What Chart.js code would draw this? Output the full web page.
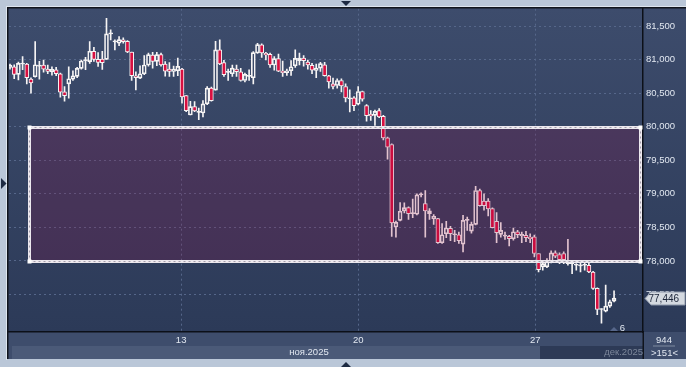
<!DOCTYPE html>
<html>
<head>
  <meta charset="UTF-8">
  <title>Свечной график</title>
  <script src="https://cdn.jsdelivr.net/npm/chart.js"></script>
  <style>
    html, body { margin: 0; padding: 0; background: #bac7d8; }
    canvas { display: block; }
  </style>
</head>
<body>
<canvas id="chart" width="686" height="367"></canvas>

<script>
  // свечи: открытие, максимум, минимум, закрытие
  const candleOpen = [
    80885, 80895, 80780, 80935, 80935, 80710, 80745, 80905, 80920, 80860,
    80820, 80850, 80790, 80520, 80640, 80710, 80750, 80870, 80985, 80970,
    81125, 81005, 81010, 81005, 81385, 81265, 81245, 81295, 81275, 81115,
    80760, 80725, 80790, 80920, 81070, 80975, 81075, 80935, 80860, 80825,
    80835, 80860, 80465, 80175, 80300, 80215, 80205, 80340, 80575, 80545,
    81145, 80955, 80810, 80790, 80860, 80820, 80690, 80750, 80730, 81100,
    81220, 81095, 81080, 80920, 81015, 80830, 80805, 80835, 80910, 80985,
    81025, 80965, 80915, 80840, 80875, 80925, 80760, 80640, 80615, 80690,
    80600, 80415, 80430, 80335, 80525, 80315, 80185, 80170, 80240, 80155,
    79835, 79735, 78505, 78605, 78745, 78795, 78705, 78695, 78985, 78855,
    78705, 78630, 78630, 78270, 78405, 78485, 78390, 78390, 78250, 78605,
    78445, 78545, 79050, 78890, 78890, 78780, 78590, 78395, 78370, 78365,
    78330, 78435, 78375, 78380, 78355, 78360, 78110, 77910, 77910, 77985,
    78120, 78095, 78110, 77960, 77960, 77935, 77925, 77935, 77935, 77835,
    77590, 77275, 77250, 77325, 77400
  ];
  const candleHigh = [
    80935, 80925, 80965, 81045, 80945, 80730, 81270, 80975, 80995, 80920,
    80895, 80885, 80800, 80600, 80895, 80835, 80885, 80995, 81035, 81270,
    81185, 81105, 81125, 81615, 81445, 81295, 81345, 81325, 81285, 81115,
    80820, 80910, 81060, 81100, 81110, 81110, 81100, 80970, 80955, 80905,
    81025, 80870, 80465, 80380, 80375, 80280, 80390, 80600, 80590, 81275,
    81295, 80990, 80860, 80920, 80920, 80870, 80800, 80850, 81120, 81245,
    81235, 81110, 81100, 81045, 81085, 80980, 80860, 80985, 81145, 81100,
    81060, 80995, 80945, 80935, 80960, 80960, 80765, 80725, 80715, 80715,
    80640, 80550, 80450, 80600, 80530, 80330, 80240, 80250, 80270, 80170,
    79845, 79745, 78595, 78870, 78865, 78805, 78920, 79000, 79015, 79050,
    78780, 78690, 78635, 78555, 78590, 78515, 78455, 78430, 78680, 78655,
    78580, 79110, 79070, 79000, 78930, 78790, 78720, 78570, 78430, 78380,
    78490, 78455, 78430, 78440, 78405, 78385, 78110, 77985, 78035, 78150,
    78150, 78120, 78135, 78320, 77985, 77960, 77970, 77970, 77970, 77845,
    77600, 77290, 77640, 77415, 77555
  ];
  const candleLow = [
    80860, 80715, 80700, 80850, 80640, 80500, 80740, 80710, 80815, 80790,
    80770, 80760, 80440, 80380, 80425, 80690, 80730, 80860, 80850, 80945,
    80975, 80900, 80855, 81005, 81295, 81145, 81210, 81245, 81105, 80690,
    80550, 80715, 80775, 80905, 80875, 80910, 80905, 80755, 80750, 80750,
    80760, 80350, 80225, 80175, 80225, 80105, 80145, 80330, 80380, 80545,
    80925, 80750, 80690, 80750, 80750, 80680, 80670, 80690, 80640, 81095,
    81035, 80995, 80885, 80845, 80820, 80750, 80765, 80765, 80885, 80920,
    80905, 80860, 80790, 80730, 80825, 80755, 80575, 80565, 80575, 80520,
    80370, 80220, 80240, 80325, 80380, 80085, 80095, 80020, 80135, 79805,
    79515, 78365, 78355, 78595, 78715, 78620, 78645, 78685, 78955, 78355,
    78620, 78545, 78260, 78260, 78345, 78300, 78285, 78260, 78135, 78455,
    78415, 78535, 78815, 78755, 78670, 78490, 78270, 78355, 78320, 78225,
    78310, 78345, 78270, 78285, 78270, 78060, 77835, 77860, 77900, 77970,
    78050, 77960, 77960, 77935, 77810, 77860, 77835, 77860, 77825, 77575,
    77200, 77070, 77240, 77305, 77390
  ];
  const candleClose = [
    80920, 80780, 80945, 80935, 80730, 80655, 80925, 80905, 80860, 80825,
    80855, 80790, 80515, 80465, 80715, 80760, 80870, 80980, 80985, 81125,
    81005, 80960, 80955, 81385, 81385, 81265, 81300, 81270, 81115, 80760,
    80730, 80790, 80920, 81075, 80975, 81075, 80920, 80830, 80825, 80860,
    80900, 80445, 80240, 80300, 80235, 80215, 80340, 80575, 80390, 81145,
    80935, 80775, 80810, 80875, 80820, 80690, 80780, 80750, 81105, 81225,
    81100, 81070, 80920, 81015, 80830, 80805, 80835, 80895, 81020, 81025,
    80985, 80920, 80845, 80875, 80940, 80760, 80670, 80600, 80690, 80610,
    80430, 80415, 80315, 80525, 80410, 80165, 80160, 80230, 80145, 79835,
    79695, 78565, 78575, 78740, 78795, 78705, 78705, 78985, 78985, 78745,
    78745, 78665, 78270, 78390, 78490, 78405, 78390, 78300, 78605, 78605,
    78545, 79050, 78825, 78825, 78775, 78495, 78420, 78455, 78370, 78330,
    78435, 78390, 78395, 78345, 78330, 78110, 77870, 77960, 78010, 78120,
    78070, 78020, 78020, 77960, 77960, 77935, 77925, 77935, 77835, 77590,
    77275, 77275, 77325, 77390, 77446
  ];

  // шкалы
  const priceTicks = [77500, 78000, 78500, 79000, 79500, 80000, 80500, 81000, 81500];
  const dayBreaks = [41.8, 84.0, 126.2];       // номер свечи на границе дня
  const dayLabels = ['13', '20', '27'];
  const monthLabels = ['ноя.2025', 'дек.2025'];
  const infoLabels = ['944', '>151<', '6'];

  // прямоугольник-зона 78 000 – 80 000
  const zoneFrom = 5.5, zoneTo = 151.2, zoneHigh = 80000, zoneLow = 78000;

  const idx = candleOpen.map((v, i) => i + 1);
  const fmt = v => v.toLocaleString('en-US');

  const upperWick = idx.map((x, i) => ({ x: x, y: [Math.max(candleOpen[i], candleClose[i]), candleHigh[i]] }));
  const lowerWick = idx.map((x, i) => ({ x: x, y: [candleLow[i], Math.min(candleOpen[i], candleClose[i])] }));
  const bodies = idx.map((x, i) => ({ x: x, y: [candleOpen[i], candleClose[i]] }));
  const bodyFill = idx.map((x, i) => candleClose[i] < candleOpen[i] ? '#d80f40' : 'rgba(0,0,0,0)');

  const wickColor = '#f6f4f4';

  // фон, рамка
  const frame = {
    id: 'frame',
    beforeDraw(chart) {
      const ctx = chart.ctx;
      ctx.save();
      ctx.fillStyle = '#bac7d8';
      ctx.fillRect(0, 0, 686, 367);
      ctx.fillStyle = '#dde5ee';
      ctx.fillRect(6, 6, 680, 1);
      ctx.fillRect(6, 6, 1, 354);
      const g = ctx.createLinearGradient(0, 8, 0, 332);
      g.addColorStop(0, '#3d4c6c');
      g.addColorStop(1, '#2c3a58');
      ctx.fillStyle = g;
      ctx.fillRect(8, 8, 678, 324);
      ctx.fillStyle = '#3e4d6c';
      ctx.fillRect(8, 332, 678, 27);
      ctx.fillStyle = '#4b5a78';
      ctx.fillRect(12, 346, 528, 13);
      ctx.fillStyle = '#2d3a56';
      ctx.fillRect(540, 346, 103, 13);
      ctx.restore();
    },
    afterDraw(chart) {
      const ctx = chart.ctx;
      const y = chart.scales.y;
      ctx.save();
      ctx.fillStyle = '#10141c';
      ctx.fillRect(7, 7, 679, 1.5);
      ctx.fillRect(7, 7, 1.5, 352);
      ctx.fillRect(642.5, 332, 1.5, 27);

      // подписи месяцев
      ctx.font = '9.5px "Liberation Sans"';
      ctx.textBaseline = 'middle';
      ctx.textAlign = 'center';
      ctx.fillStyle = '#e2e8f1';
      ctx.fillText(monthLabels[0], 309, 352);
      ctx.textAlign = 'right';
      ctx.fillStyle = '#7c879b';
      ctx.fillText(monthLabels[1], 643, 352);

      // правый нижний блок
      ctx.textAlign = 'center';
      ctx.fillStyle = '#e2e8f1';
      ctx.fillText(infoLabels[0], 664, 340);
      ctx.fillText(infoLabels[1], 664.5, 353);
      ctx.fillStyle = '#7f8ba0';
      ctx.fillRect(653, 345.5, 22, 1);

      // маркер «6»
      ctx.fillStyle = '#56668a';
      ctx.beginPath();
      ctx.moveTo(610, 331); ctx.lineTo(618, 331); ctx.lineTo(614, 327);
      ctx.closePath(); ctx.fill();
      ctx.fillStyle = '#e2e8f1';
      ctx.fillText(infoLabels[2], 622.5, 328);

      // ярлык последней цены
      const last = candleClose[candleClose.length - 1];
      const py = Math.round(y.getPixelForValue(last)) + 0.5;
      ctx.beginPath();
      ctx.moveTo(645, py);
      ctx.lineTo(651, py - 6.5);
      ctx.lineTo(685, py - 6.5);
      ctx.lineTo(685, py + 6.5);
      ctx.lineTo(651, py + 6.5);
      ctx.closePath();
      ctx.fillStyle = '#d4d9e0';
      ctx.fill();
      ctx.strokeStyle = '#8c96a8';
      ctx.lineWidth = 1;
      ctx.stroke();
      ctx.fillStyle = '#1b2438';
      ctx.textAlign = 'left';
      ctx.font = '10px "Liberation Sans"';
      ctx.fillText(fmt(last), 648.5, py + 0.5);

      // треугольники по краям окна
      ctx.fillStyle = '#1d2a42';
      ctx.beginPath();
      ctx.moveTo(341, 1); ctx.lineTo(351, 1); ctx.lineTo(346, 6); ctx.closePath(); ctx.fill();
      ctx.beginPath();
      ctx.moveTo(341, 367); ctx.lineTo(351, 367); ctx.lineTo(346, 362); ctx.closePath(); ctx.fill();
      ctx.beginPath();
      ctx.moveTo(1, 178); ctx.lineTo(1, 189); ctx.lineTo(6.5, 183.5); ctx.closePath(); ctx.fill();
      ctx.restore();
    }
  };

  // полупрозрачная зона поверх свечей
  const zone = {
    id: 'zone',
    afterDatasetsDraw(chart) {
      const ctx = chart.ctx;
      const xs = chart.scales.x, ys = chart.scales.y;
      const x1 = Math.round(xs.getPixelForValue(zoneFrom));
      const x2 = Math.round(xs.getPixelForValue(zoneTo));
      const y1 = Math.round(ys.getPixelForValue(zoneHigh));
      const y2 = Math.round(ys.getPixelForValue(zoneLow));
      ctx.save();
      ctx.fillStyle = 'rgba(150, 0, 60, 0.2)';
      ctx.fillRect(x1, y1, x2 - x1, y2 - y1);
      ctx.strokeStyle = '#ece8ee';
      ctx.lineWidth = 3;
      ctx.strokeRect(x1 + 0.5, y1 + 0.5, x2 - x1, y2 - y1);
      ctx.strokeStyle = '#a29caa';
      ctx.lineWidth = 1;
      ctx.setLineDash([2, 3]);
      ctx.strokeRect(x1 + 0.5, y1 + 0.5, x2 - x1, y2 - y1);
      ctx.setLineDash([]);
      ctx.fillStyle = '#ffffff';
      [[x1, y1], [x2, y1], [x1, y2], [x2, y2]].forEach(p => ctx.fillRect(p[0] - 1.5, p[1] - 1.5, 4, 4));
      ctx.restore();
    }
  };

  new Chart(document.getElementById('chart'), {
    type: 'bar',
    data: {
      datasets: [
        { data: upperWick, barThickness: 1, backgroundColor: wickColor, grouped: false, order: 3 },
        { data: lowerWick, barThickness: 1, backgroundColor: wickColor, grouped: false, order: 2 },
        {
          data: bodies, barThickness: 4, backgroundColor: bodyFill, borderColor: wickColor,
          borderWidth: 1, borderSkipped: false, minBarLength: 1, grouped: false, order: 1
        }
      ]
    },
    options: {
      responsive: false,
      animation: false,
      devicePixelRatio: 1,
      layout: { padding: { left: 9, top: 8, right: 0, bottom: 0 } },
      plugins: { legend: { display: false }, tooltip: { enabled: false } },
      scales: {
        x: {
          type: 'linear',
          offset: false,
          min: 0.76,
          max: 151.9,
          afterBuildTicks: s => { s.ticks = dayBreaks.map(v => ({ value: v })); },
          afterFit: s => { s.height = 35; },
          ticks: {
            autoSkip: false, maxRotation: 0, padding: 3,
            color: '#e2e8f1', font: { family: 'Liberation Sans', size: 9.5 },
            callback: (v, i) => dayLabels[i]
          },
          grid: { color: '#56678a', drawTicks: false, lineWidth: 1, offset: false },
          border: { display: true, color: '#0c1018', width: 1.5, dash: [2, 3] }
        },
        y: {
          position: 'right',
          min: 76940,
          max: 81760,
          afterBuildTicks: s => { s.ticks = priceTicks.map(v => ({ value: v })); },
          afterFit: s => { s.width = 43; },
          ticks: {
            padding: 3, color: '#e2e8f1', font: { family: 'Liberation Sans', size: 9.5 },
            callback: v => fmt(v)
          },
          grid: { color: '#56678a', drawTicks: false, lineWidth: 1 },
          border: { display: true, color: '#0c1018', width: 1.5, dash: [2, 3] }
        }
      }
    },
    plugins: [frame, zone]
  });
</script>
</body>
</html>
